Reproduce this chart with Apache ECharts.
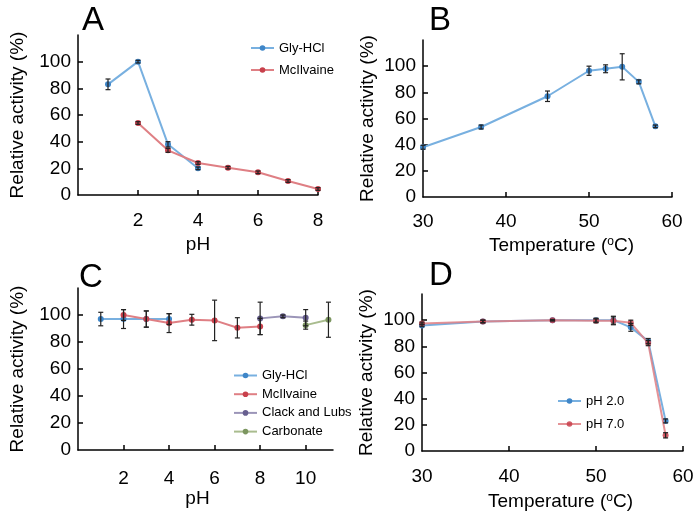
<!DOCTYPE html>
<html>
<head>
<meta charset="utf-8">
<script src="https://cdn.jsdelivr.net/npm/echarts@6/dist/echarts.min.js"></script>
<style>
  html, body { margin: 0; padding: 0; background: #fff; }
  #chart { width: 700px; height: 518px; }
</style>
</head>
<body>
<div id="chart"></div>
<script>
// ---------- Data ----------
// Panel A: pH optimum
const phA_gly = [1, 2, 3, 4];
const actA_gly = [83, 100, 38, 20];
const errA_gly = [4, 1, 2, 1];
const phA_mc = [2, 3, 4, 5, 6, 7, 8];
const actA_mc = [54, 33.5, 24, 20.5, 17, 10.5, 4.5];
const errA_mc = [1, 1.5, 1, 1, 1, 1, 1];

// Panel B: temperature optimum
const tempB = [30, 37, 45, 50, 52, 54, 56, 58];
const actB = [38, 53.5, 77, 96.5, 98, 99.5, 88, 54];
const errB = [1.5, 1.5, 4, 3.5, 3, 10, 1.5, 1];

// Panel C: pH stability
const phC_gly = [1, 2, 3, 4];
const actC_gly = [97, 97, 97, 97];
const errC_gly = [5, 7, 6, 4];
const phC_mc = [2, 3, 4, 5, 6, 7, 8];
const actC_mc = [100, 97, 94, 96.5, 96, 90.5, 91.5];
const errC_mc = [4, 6, 7, 4, 15, 7.5, 6];
const phC_cl = [8, 9, 10];
const actC_cl = [97.5, 99, 98];
const errC_cl = [12, 1, 6];
const phC_ca = [10, 11];
const actC_ca = [92.5, 96.5];
const errC_ca = [3, 13];

// Panel D: thermostability
const tempD = [30, 37, 45, 50, 52, 54, 56, 58];
const actD_ph2 = [96, 99, 100, 100, 100, 94.5, 84, 23];
const errD_ph2 = [1, 1, 0.5, 1.5, 3, 3, 2, 1.5];
const actD_ph7 = [97.5, 99, 100, 99.5, 99.5, 98, 82.5, 12];
const errD_ph7 = [1, 1, 0.5, 1.5, 3, 2, 2, 2];

// Tick labels
const yLabels = [0, 20, 40, 60, 80, 100];
const yTicks = [20, 40, 60, 80, 100];
const xLabelsA = [2, 4, 6, 8];
const xLabelsC = [2, 4, 6, 8, 10];
const xLabelsT = [30, 40, 50, 60];
const xTicksT = [40, 50, 60];

const panelLetters = ['A', 'B', 'C', 'D'];
const yName = 'Relative activity (%)';

// ---------- Styles ----------
const FONT = "'Liberation Sans', Arial, sans-serif";
const C = {
  blueLine: '#78b0e0', blueDot: '#3f86c8',
  redLine: '#df7f84', redDot: '#c8404c',
  purLine: '#9b95b8', purDot: '#675f8f',
  grnLine: '#a9bc8e', grnDot: '#7c9660'
};

function zip(xs, ys) { return xs.map((x, i) => [x, ys[i]]); }
function zip3(xs, ys, es) { return xs.map((x, i) => [x, ys[i], es[i]]); }

function lineSeries(name, idx, xs, ys, lineColor, dotColor, z, opacity) {
  return {
    name, type: 'line', xAxisIndex: idx, yAxisIndex: idx,
    data: zip(xs, ys), symbol: 'circle', symbolSize: 6,
    lineStyle: { color: lineColor, width: 2, opacity: opacity == null ? 1 : opacity },
    itemStyle: { color: dotColor, opacity: opacity == null ? 1 : opacity },
    z: z || 2, animation: false, silent: true
  };
}

let errCount = 0;
function errSeries(idx, xs, ys, es) {
  errCount++;
  return {
    type: 'custom', name: 'err_' + errCount,
    xAxisIndex: idx, yAxisIndex: idx,
    data: zip3(xs, ys, es), z: 10, animation: false, silent: true,
    renderItem: function (params, api) {
      const x = api.value(0), y = api.value(1), e = api.value(2);
      const hi = api.coord([x, y + e]);
      const lo = api.coord([x, y - e]);
      const cw = 2.5;
      const st = { stroke: '#222', lineWidth: 1.2, fill: null };
      return {
        type: 'group',
        children: [
          { type: 'line', shape: { x1: hi[0], y1: hi[1], x2: lo[0], y2: lo[1] }, style: st },
          { type: 'line', shape: { x1: hi[0] - cw, y1: hi[1], x2: hi[0] + cw, y2: hi[1] }, style: st },
          { type: 'line', shape: { x1: lo[0] - cw, y1: lo[1], x2: lo[0] + cw, y2: lo[1] }, style: st }
        ]
      };
    }
  };
}

const axisLineStyle = { show: true, lineStyle: { color: '#000', width: 1.5 } };
const axisText = { color: '#000', fontSize: 19, fontFamily: FONT };

function xAxis(idx, min, max, interval, labels, ticks, name, margin, nameGap, namePad) {
  return {
    type: 'value', gridIndex: idx, min, max, interval,
    name, nameLocation: 'middle', nameGap,
    nameTextStyle: Object.assign({}, axisText, {
      padding: namePad || 0,
      rich: { sup: { fontSize: 12, fontFamily: FONT, color: '#000', verticalAlign: 'top', padding: [0, 0, 8, 0] } }
    }),
    axisLine: axisLineStyle,
    axisTick: { show: true, inside: true, length: 5, lineStyle: { color: '#000', width: 1.5 }, customValues: ticks },
    axisLabel: Object.assign({}, axisText, {
      margin, customValues: labels,
      formatter: v => (labels.indexOf(v) >= 0 ? String(v) : '')
    }),
    splitLine: { show: false }
  };
}

function yAxis(idx, nameGap) {
  return {
    type: 'value', gridIndex: idx, min: 0, max: 120, interval: 20,
    name: yName, nameLocation: 'middle', nameGap,
    nameTextStyle: Object.assign({}, axisText),
    axisLine: axisLineStyle,
    axisTick: { show: true, inside: true, length: 5, lineStyle: { color: '#000', width: 1.5 }, customValues: yTicks },
    axisLabel: Object.assign({}, axisText, {
      margin: 7, customValues: yLabels,
      formatter: v => (yLabels.indexOf(v) >= 0 ? String(v) : '')
    }),
    splitLine: { show: false }
  };
}

const legendText = { color: '#000', fontSize: 13, fontFamily: FONT };
function legend(names, left, top, gap) {
  return {
    data: names, orient: 'vertical', left, top,
    itemWidth: 23, itemHeight: 7, itemGap: gap,
    textStyle: legendText, padding: 0, selectedMode: false
  };
}

const tempName = 'Temperature ({sup|o}C)';

const option = {
  backgroundColor: '#fff',
  animation: false,
  title: [
    { text: panelLetters[0], left: 82, top: 4 },
    { text: panelLetters[1], left: 429, top: 4 },
    { text: panelLetters[2], left: 79, top: 261 },
    { text: panelLetters[3], left: 429, top: 259 }
  ].map(t => Object.assign(t, { padding: 0, textStyle: { fontSize: 33, fontWeight: 'normal', color: '#000', fontFamily: FONT } })),
  grid: [
    { left: 78, top: 35, width: 240, height: 160 },
    { left: 423, top: 40, width: 249, height: 157 },
    { left: 78, top: 288, width: 255, height: 162 },
    { left: 422, top: 294, width: 261, height: 157 }
  ],
  xAxis: [
    xAxis(0, 0, 8, 2, xLabelsA, xLabelsA, 'pH', 16, 40),
    xAxis(1, 30, 60, 10, xLabelsT, xTicksT, tempName, 15, 39, [0, 0, 0, 28]),
    xAxis(2, 0, 11.2, 2, xLabelsC, xLabelsC, 'pH', 19, 37, [0, 16, 0, 0]),
    xAxis(3, 30, 60, 10, xLabelsT, xTicksT, tempName, 16, 41, [0, 0, 0, 16])
  ],
  yAxis: [yAxis(0, 51), yAxis(1, 46), yAxis(2, 51), yAxis(3, 46)],
  legend: [
    legend(['Gly-HCl', 'McIlvaine'], 250, 41.5, 9),
    legend(['Gly-HCl ', 'McIlvaine ', 'Clack and Lubs', 'Carbonate'], 233, 369, 5.7),
    legend(['pH 2.0', 'pH 7.0'], 557, 394.5, 10)
  ],
  series: [
    lineSeries('Gly-HCl', 0, phA_gly, actA_gly, C.blueLine, C.blueDot),
    lineSeries('McIlvaine', 0, phA_mc, actA_mc, C.redLine, C.redDot),
    errSeries(0, phA_gly, actA_gly, errA_gly),
    errSeries(0, phA_mc, actA_mc, errA_mc),

    lineSeries('Temp B', 1, tempB, actB, C.blueLine, C.blueDot),
    errSeries(1, tempB, actB, errB),

    lineSeries('Gly-HCl ', 2, phC_gly, actC_gly, C.blueLine, C.blueDot),
    lineSeries('McIlvaine ', 2, phC_mc, actC_mc, C.redLine, C.redDot),
    lineSeries('Clack and Lubs', 2, phC_cl, actC_cl, C.purLine, C.purDot),
    lineSeries('Carbonate', 2, phC_ca, actC_ca, C.grnLine, C.grnDot),
    errSeries(2, phC_gly, actC_gly, errC_gly),
    errSeries(2, phC_mc, actC_mc, errC_mc),
    errSeries(2, phC_cl, actC_cl, errC_cl),
    errSeries(2, phC_ca, actC_ca, errC_ca),

    lineSeries('pH 2.0', 3, tempD, actD_ph2, C.blueLine, C.blueDot, 2),
    lineSeries('pH 7.0', 3, tempD, actD_ph7, C.redLine, C.redDot, 3, 0.85),
    errSeries(3, tempD, actD_ph2, errD_ph2),
    errSeries(3, tempD, actD_ph7, errD_ph7)
  ]
};

const chart = echarts.init(document.getElementById('chart'), null, { renderer: 'canvas' });
chart.setOption(option);
</script>
</body>
</html>
